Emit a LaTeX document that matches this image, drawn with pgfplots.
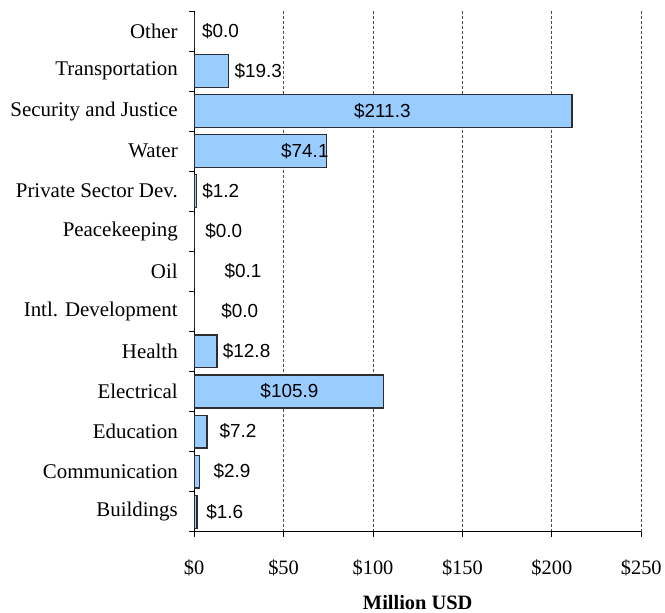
\documentclass[border=0pt]{standalone}
\usepackage{fontspec}
\setmainfont{Liberation Serif}
\newfontfamily\arialfont{Liberation Sans}
\usepackage{pgfplots}
\usepackage{pgfplotstable}
\pgfplotsset{compat=1.18}
\definecolor{barblue}{RGB}{153,204,255}
\definecolor{baredge}{RGB}{45,45,50}

% y: position from bottom, val: million USD, dx: label offset from bar end (pt)
\pgfplotstableread{
y  val    dx
0  1.6    8.8
1  2.9    13.8
2  7.2    12
3  105.9  -124.2
4  12.8   5.3
5  0.0    26.7
6  0.1    29.8
7  0.0    10.7
8  1.2    5.5
9  74.1   -46.3
10 211.3  -219.5
11 19.3   5.3
12 0.0    7.3
}\sectordata

\begin{document}
\begin{tikzpicture}
\begin{axis}[
    scale only axis,
    width=449pt, height=523pt,
    xbar, bar width=33pt,
    xmin=0, xmax=250,
    ymin=-0.5, ymax=12.5,
    axis x line*=bottom, axis y line*=left,
    axis line style={black, line width=0.8pt},
    xtick={0,50,...,250},
    xticklabel={\$\pgfmathprintnumber{\tick}},
    /pgf/number format/assume math mode=true,
    ytick={-0.5,0.5,...,12.5},
    yticklabels={Buildings,Communication,Education,Electrical,Health,Intl. Development,Oil,Peacekeeping,Private Sector Dev.,Water,Security and Justice,Transportation,Other},
    y tick label as interval,
    tick align=outside,
    major tick length=5pt,
    tick style={black, line width=0.8pt},
    xticklabel style={font=\fontsize{20.5}{24}\selectfont, yshift=-20pt},
    yticklabel style={font=\fontsize{21}{24}\selectfont, xshift=-8pt},
    xmajorgrids,
    grid style={dash pattern=on 3pt off 2pt, black!70, line width=0.8pt},
    xlabel={\textbf{Million USD}},
    xlabel style={font=\fontsize{20.5}{24}\selectfont, yshift=-12pt},
    nodes near coords={\$\pgfmathprintnumber[fixed,fixed zerofill,precision=1]{\pgfplotspointmeta}},
    point meta=x,
    visualization depends on={\thisrow{dx} \as \labeldx},
    every node near coord/.append style={anchor=west, inner sep=0pt, xshift=\labeldx pt,
        font=\arialfont\fontsize{19}{22}\selectfont, black},
]
\addplot[fill=barblue, draw=baredge, line width=1.2pt] table[x=val, y=y] {\sectordata};
\coordinate (ll) at (rel axis cs:0,0);
\coordinate (ur) at (rel axis cs:1,1);
\end{axis}
\path ([shift={(-195pt,-77pt)}]ll) rectangle ([shift={(21pt,11pt)}]ur);
\end{tikzpicture}
\end{document}
